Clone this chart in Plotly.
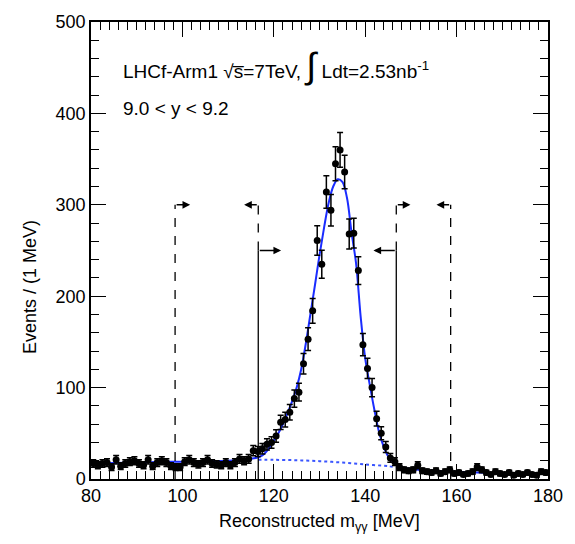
import numpy as np
import plotly.graph_objects as go

# ---- data ----
bin_centers = np.arange(80.5, 180.0, 1.0)
counts = [17, 15, 17, 18, 13, 21, 14, 17, 19, 20,
          17, 15, 21, 14, 18, 20, 18, 14, 13, 13,
          19, 21, 18, 16, 18, 21, 17, 16, 15, 18,
          15, 18, 22, 20, 22, 31, 30, 33, 38, 40,
          47, 62, 65, 73, 88, 95, 126, 153, 184, 261,
          235, 314, 294, 345, 360, 336, 268, 269, 228, 147,
          121, 100, 66, 50, 35, 23, 19, 13, 10, 9,
          10, 15, 9, 8, 7, 9, 6, 8, 10, 6,
          7, 5, 6, 8, 13, 10, 7, 5, 8, 6,
          5, 7, 4, 6, 5, 7, 5, 4, 8, 7]

fit_x = [80, 85, 90, 95, 100, 105, 110, 112, 114, 116, 117, 118, 119, 120, 121, 122, 123, 124,
         125, 126, 127, 128, 129, 130, 131, 132, 133, 134, 135, 136, 137, 138, 139, 140, 141,
         142, 143, 144, 145, 146, 147, 148, 150, 155, 160, 165, 170, 175, 180]
fit_y = [17, 17.5, 18, 18.5, 19, 19.5, 20, 20.5, 21.5, 23, 24.5, 28, 34, 42, 50, 60, 72, 85,
         100, 120, 148, 180, 212, 245, 275, 302, 320, 328, 325, 308, 270, 236, 178, 132, 103,
         76, 52, 36, 25, 19, 15, 13, 11, 9, 8, 7, 6.5, 6, 6]

bkg_x = [116.6, 120, 125, 130, 135, 140, 145, 146.8]
bkg_y = [21, 21, 20.5, 19.5, 18, 16, 14, 13]

# cut lines: (x, y_bottom, y_top, dash)
cut_x = [98.4, 116.6, 116.6, 146.8, 146.8, 158.7]
cut_ylo = [0, 250, 0, 0, 250, 0]
cut_yhi = [300, 300, 250, 250, 300, 300]
cut_dash = ["dash", "dash", "solid", "solid", "dash", "dash"]
# arrows: (x_start, x_end, y)
arr_x0 = [98.4, 116.6, 116.6, 146.8, 146.8, 158.7]
arr_x1 = [101.7, 113.5, 121.6, 141.8, 149.9, 155.6]
arr_y = [300, 300, 250, 250, 300, 300]

FONT = "Liberation Sans, Arial, Helvetica, sans-serif"

fig = go.Figure()

fig.add_trace(go.Scatter(x=fit_x, y=fit_y, mode="lines", line=dict(color="#1a2cff", width=2, shape="spline"),
                         hoverinfo="skip", showlegend=False))
fig.add_trace(go.Scatter(x=bkg_x, y=bkg_y, mode="lines", line=dict(color="#3a55ff", width=2, dash="dot", shape="spline"),
                         hoverinfo="skip", showlegend=False))
fig.add_trace(go.Scatter(x=bin_centers, y=counts, mode="markers",
                         marker=dict(color="black", size=7, symbol="circle"),
                         error_y=dict(type="sqrt", color="black", thickness=1.5, width=3),
                         showlegend=False))

for x, y0, y1, d in zip(cut_x, cut_ylo, cut_yhi, cut_dash):
    fig.add_shape(type="line", x0=x, x1=x, y0=y0, y1=y1, xref="x", yref="y",
                  line=dict(color="black", width=1.3, dash=d))
for x0, x1, y in zip(arr_x0, arr_x1, arr_y):
    fig.add_annotation(x=x1, y=y, ax=x0, ay=y, xref="x", yref="y", axref="x", ayref="y",
                       text="", showarrow=True, arrowhead=2, arrowsize=1.1, arrowwidth=1.4,
                       arrowcolor="black")

fig.add_annotation(x=0.065, y=0.905, xref="paper", yref="paper", xanchor="left", yanchor="middle",
                   text="LHCf-Arm1 √s\u0305=7TeV, "
                        "<span style='font-size:36px'>∫</span> Ldt=2.53nb<sup>-1</sup>",
                   showarrow=False, font=dict(family=FONT, size=19, color="black"))
fig.add_annotation(x=0.065, y=0.81, xref="paper", yref="paper", xanchor="left", yanchor="middle",
                   text="9.0 &lt; y &lt; 9.2", showarrow=False,
                   font=dict(family=FONT, size=19, color="black"))

fig.add_annotation(x=-0.16, y=0.42, xref="paper", yref="paper", textangle=-90,
                   text="Events / (1 MeV)", showarrow=False,
                   font=dict(family=FONT, size=18, color="black"))
fig.add_annotation(x=0.5, y=-0.095, xref="paper", yref="paper", yanchor="middle",
                   text="Reconstructed m<sub>γγ</sub> [MeV]", showarrow=False,
                   font=dict(family=FONT, size=18, color="black"))

axis_common = dict(showgrid=False, zeroline=False, showline=True, linecolor="black", linewidth=1.5,
                   mirror="ticks", ticks="inside", ticklen=15, tickwidth=1.3, tickcolor="black",
                   tickfont=dict(family=FONT, size=18, color="black"))
fig.update_xaxes(range=[80, 180], tickvals=[80, 100, 120, 140, 160, 180],
                 minor=dict(ticks="inside", ticklen=8, dtick=2, tickcolor="black", tickwidth=1.1),
                 **axis_common)
fig.update_yaxes(range=[0, 500], tickvals=[0, 100, 200, 300, 400, 500],
                 minor=dict(ticks="inside", ticklen=8, dtick=20, tickcolor="black", tickwidth=1.1),
                 **axis_common)

fig.update_layout(width=575, height=544, margin=dict(l=91, r=19, t=17, b=65),
                  plot_bgcolor="white", paper_bgcolor="white",
                  font=dict(family=FONT, color="black"))

fig.write_html("out.html")
